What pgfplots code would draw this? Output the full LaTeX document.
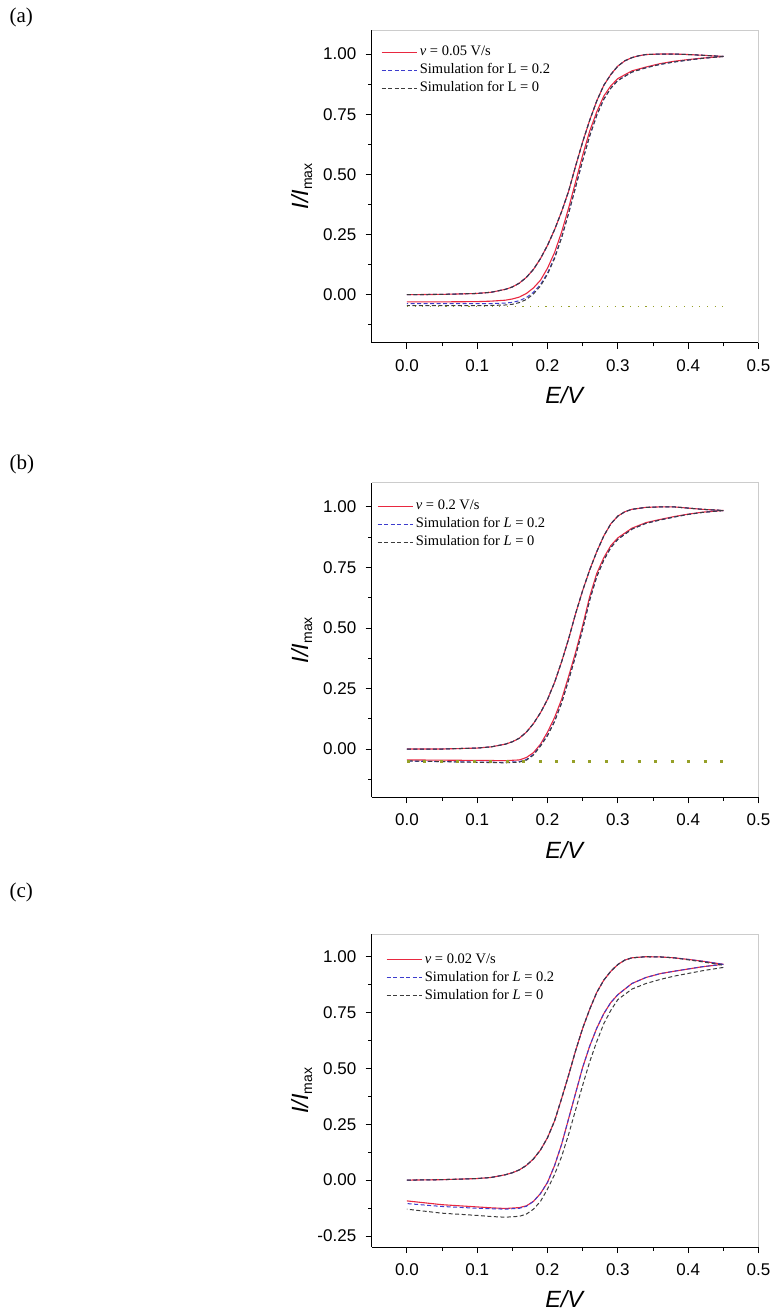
\documentclass[border=0pt]{standalone}
\usepackage{fontspec}
\setmainfont{Liberation Sans}
\newfontfamily\tnr{Liberation Serif}
\usepackage{pgfplots}
\usepackage{pgfplotstable}
\pgfplotsset{compat=1.18}

\definecolor{expred}{RGB}{232,40,64}
\definecolor{simblue}{RGB}{60,60,205}
\definecolor{simgray}{RGB}{60,60,60}
\definecolor{baseolive}{RGB}{150,160,40}

% ---- panel (a): v = 0.05 V/s ----
\pgfplotstableread{
E red blue gray
0.00 0.000 0.000 0.000
0.05 0.001 0.001 0.001
0.10 0.005 0.005 0.005
0.12 0.010 0.010 0.010
0.14 0.022 0.022 0.022
0.15 0.032 0.032 0.032
0.16 0.048 0.048 0.048
0.17 0.072 0.072 0.072
0.18 0.105 0.105 0.105
0.19 0.150 0.150 0.150
0.20 0.205 0.205 0.205
0.21 0.270 0.270 0.270
0.22 0.345 0.345 0.345
0.23 0.430 0.430 0.430
0.24 0.535 0.535 0.535
0.25 0.635 0.635 0.635
0.26 0.725 0.725 0.725
0.27 0.805 0.805 0.805
0.28 0.870 0.870 0.870
0.29 0.915 0.915 0.915
0.30 0.950 0.950 0.950
0.31 0.972 0.972 0.972
0.32 0.985 0.985 0.985
0.33 0.993 0.993 0.993
0.34 0.998 0.998 0.998
0.36 1.000 1.000 1.000
0.38 1.000 1.000 1.000
0.40 0.998 0.998 0.998
0.42 0.995 0.995 0.995
0.45 0.990 0.990 0.990
}\fwdA
\pgfplotstableread{
E red blue gray
0.45 0.990 0.990 0.990
0.42 0.983 0.982 0.982
0.40 0.977 0.975 0.975
0.38 0.970 0.967 0.967
0.36 0.960 0.957 0.957
0.34 0.946 0.943 0.943
0.32 0.930 0.925 0.925
0.30 0.898 0.890 0.890
0.29 0.868 0.858 0.858
0.28 0.825 0.812 0.812
0.27 0.760 0.745 0.745
0.26 0.680 0.660 0.660
0.25 0.580 0.558 0.558
0.24 0.470 0.448 0.448
0.23 0.360 0.338 0.338
0.22 0.260 0.238 0.236
0.21 0.175 0.155 0.150
0.20 0.110 0.090 0.085
0.19 0.060 0.042 0.036
0.18 0.028 0.010 0.003
0.17 0.005 -0.012 -0.020
0.16 -0.010 -0.025 -0.033
0.15 -0.018 -0.032 -0.040
0.14 -0.023 -0.035 -0.043
0.12 -0.027 -0.037 -0.045
0.10 -0.029 -0.037 -0.046
0.05 -0.030 -0.037 -0.046
0.00 -0.030 -0.037 -0.046
}\revA

% ---- panel (b): v = 0.2 V/s ----
\pgfplotstableread{
E red blue gray
0.00 0.000 0.000 0.000
0.05 0.000 0.000 0.000
0.10 0.004 0.004 0.004
0.12 0.009 0.009 0.009
0.14 0.020 0.020 0.020
0.15 0.030 0.030 0.030
0.16 0.045 0.045 0.045
0.17 0.070 0.070 0.070
0.18 0.105 0.105 0.105
0.19 0.150 0.150 0.150
0.20 0.205 0.205 0.205
0.21 0.275 0.275 0.275
0.22 0.360 0.360 0.360
0.23 0.455 0.455 0.455
0.24 0.560 0.560 0.560
0.25 0.655 0.655 0.655
0.26 0.740 0.740 0.740
0.27 0.815 0.815 0.815
0.28 0.880 0.880 0.880
0.29 0.930 0.930 0.930
0.30 0.962 0.962 0.962
0.31 0.980 0.980 0.980
0.32 0.990 0.990 0.990
0.34 0.998 0.998 0.998
0.36 1.000 1.000 1.000
0.38 1.000 1.000 1.000
0.40 0.995 0.995 0.995
0.42 0.990 0.990 0.990
0.45 0.985 0.985 0.985
}\fwdB
\pgfplotstableread{
E red blue gray
0.45 0.985 0.985 0.985
0.42 0.978 0.977 0.977
0.40 0.970 0.969 0.969
0.38 0.960 0.958 0.958
0.36 0.948 0.946 0.946
0.34 0.935 0.932 0.932
0.32 0.912 0.908 0.908
0.30 0.872 0.866 0.866
0.29 0.840 0.832 0.832
0.28 0.790 0.780 0.780
0.27 0.725 0.712 0.712
0.26 0.630 0.615 0.615
0.25 0.510 0.495 0.495
0.24 0.400 0.385 0.385
0.23 0.300 0.285 0.285
0.22 0.205 0.190 0.190
0.21 0.130 0.115 0.113
0.20 0.070 0.058 0.055
0.19 0.020 0.015 0.012
0.18 -0.015 -0.022 -0.025
0.17 -0.035 -0.043 -0.046
0.16 -0.045 -0.052 -0.054
0.14 -0.048 -0.055 -0.057
0.10 -0.047 -0.054 -0.055
0.05 -0.046 -0.052 -0.052
0.00 -0.045 -0.050 -0.049
}\revB

% ---- panel (c): v = 0.02 V/s ----
\pgfplotstableread{
E red blue gray
0.00 0.000 0.000 0.000
0.05 0.002 0.002 0.002
0.10 0.007 0.007 0.007
0.12 0.012 0.012 0.012
0.14 0.024 0.024 0.024
0.15 0.033 0.033 0.033
0.16 0.046 0.046 0.046
0.17 0.066 0.066 0.066
0.18 0.095 0.095 0.095
0.19 0.135 0.135 0.135
0.20 0.190 0.190 0.190
0.21 0.265 0.265 0.265
0.22 0.365 0.365 0.365
0.23 0.470 0.470 0.470
0.24 0.580 0.580 0.580
0.25 0.680 0.680 0.680
0.26 0.765 0.765 0.765
0.27 0.840 0.840 0.840
0.28 0.895 0.895 0.895
0.29 0.935 0.935 0.935
0.30 0.965 0.965 0.965
0.31 0.985 0.985 0.985
0.32 0.995 0.995 0.995
0.34 1.000 1.000 1.000
0.36 0.999 0.999 0.999
0.38 0.995 0.995 0.995
0.40 0.988 0.988 0.986
0.42 0.980 0.980 0.977
0.45 0.966 0.966 0.962
}\fwdC
\pgfplotstableread{
E red blue gray
0.45 0.966 0.966 0.952
0.42 0.955 0.955 0.937
0.40 0.945 0.945 0.925
0.38 0.935 0.935 0.913
0.36 0.924 0.924 0.898
0.34 0.907 0.907 0.880
0.32 0.880 0.880 0.855
0.30 0.830 0.830 0.808
0.29 0.795 0.795 0.760
0.28 0.745 0.745 0.700
0.27 0.680 0.680 0.620
0.26 0.600 0.600 0.530
0.25 0.505 0.505 0.425
0.24 0.390 0.390 0.315
0.23 0.275 0.275 0.205
0.22 0.160 0.160 0.105
0.21 0.065 0.065 0.025
0.20 -0.010 -0.010 -0.040
0.19 -0.060 -0.060 -0.095
0.18 -0.095 -0.095 -0.130
0.17 -0.115 -0.117 -0.152
0.16 -0.123 -0.126 -0.162
0.14 -0.127 -0.130 -0.166
0.12 -0.124 -0.128 -0.163
0.10 -0.120 -0.126 -0.158
0.05 -0.110 -0.118 -0.148
0.00 -0.093 -0.105 -0.130
}\revC

\tikzset{
  expline/.style={color=expred, line width=1.1pt},
  blueline/.style={color=simblue, line width=1pt, dash pattern=on 4pt off 2.5pt},
  grayline/.style={color=simgray, line width=1pt, dash pattern=on 4pt off 2.5pt},
  legtext/.style={anchor=west, inner sep=0pt, text height=10pt, text depth=3pt,
    font=\tnr\fontsize{14.5}{16}\selectfont},
}

% legend: three texts first, then the three sample lines (x of line start, y of first row)
\newcommand{\legend}[5]{%
  \node[legtext] at (#1pt+38pt,#2pt+0.3pt) {#3};
  \node[legtext] at (#1pt+38pt,#2pt-17.7pt) {#4};
  \node[legtext] at (#1pt+38pt,#2pt-35.7pt) {#5};
  \draw[expline] (#1pt,#2pt) -- ++(35pt,0pt);
  \draw[blueline] (#1pt,#2pt-18pt) -- ++(35pt,0pt);
  \draw[grayline] (#1pt,#2pt-36pt) -- ++(35pt,0pt);}

\pgfplotsset{
  cvpanel/.style={
    scale only axis, width=387pt, no markers, clip=false,
    xmin=-0.05, xmax=0.5,
    axis x line*=bottom, axis y line*=left,
    axis line style={-, black, line width=0.8pt},
    tick align=outside, major tick length=6pt, minor tick length=3.5pt,
    tick style={black, line width=0.8pt},
    xtick={0,0.1,0.2,0.3,0.4,0.5},
    minor xtick={0.05,0.15,0.25,0.35,0.45},
    tick label style={font=\fontsize{17}{20}\selectfont},
    x tick label style={yshift=-7pt,/pgf/number format/.cd,fixed,fixed zerofill,precision=1,assume math mode=true},
    y tick label style={xshift=-6pt,/pgf/number format/.cd,fixed,fixed zerofill,precision=2,assume math mode=true},
    xlabel={\textit{E/V}},
    ylabel={\textit{I/I}\raisebox{-4pt}{\fontsize{14}{14}\selectfont max}},
    xlabel style={at={(axis description cs:0.5,-0.166)}, anchor=center, font=\fontsize{23.5}{26}\selectfont},
    ylabel style={at={(axis description cs:-0.181,0.5)}, anchor=center, font=\fontsize{23.5}{26}\selectfont},
  },
}

\begin{document}
\begin{tikzpicture}
\path (0,0) rectangle (775pt,-1311pt);

\node[anchor=west, font=\tnr\fontsize{21}{24}\selectfont] at (6pt,-17pt) {(a)};
\node[anchor=west, font=\tnr\fontsize{21}{24}\selectfont] at (6pt,-465pt) {(b)};
\node[anchor=west, font=\tnr\fontsize{21}{24}\selectfont] at (6pt,-893pt) {(c)};

% (a)
\begin{axis}[cvpanel, at={(372pt,-343pt)}, anchor=south west, height=313pt,
  ymin=-0.2, ymax=1.1, ytick={0,0.25,0.5,0.75,1},
  minor ytick={-0.125,0.125,0.375,0.625,0.875}]
\draw[gray!40, line width=0.8pt] (rel axis cs:0,1) -- (rel axis cs:1,1) -- (rel axis cs:1,0);
\addplot[baseolive, line width=1pt, dash pattern=on 1.2pt off 6.5pt] coordinates {(0,-0.05) (0.45,-0.05)};
\addplot[expline] table[x=E,y=red] {\fwdA};
\addplot[expline] table[x=E,y=red] {\revA};
\addplot[blueline] table[x=E,y=blue] {\fwdA};
\addplot[blueline] table[x=E,y=blue] {\revA};
\addplot[grayline] table[x=E,y=gray] {\fwdA};
\addplot[grayline] table[x=E,y=gray] {\revA};
\end{axis}
\legend{382}{-52.7}{{\itshape v} = 0.05 V/s}{Simulation for L = 0.2}{Simulation for L = 0}

% (b)
\begin{axis}[cvpanel, at={(372pt,-798pt)}, anchor=south west, height=315pt,
  ymin=-0.2, ymax=1.1, ytick={0,0.25,0.5,0.75,1},
  minor ytick={-0.125,0.125,0.375,0.625,0.875}]
\draw[gray!40, line width=0.8pt] (rel axis cs:0,1) -- (rel axis cs:1,1) -- (rel axis cs:1,0);
\addplot[expline] table[x=E,y=red] {\fwdB};
\addplot[expline] table[x=E,y=red] {\revB};
\addplot[blueline] table[x=E,y=blue] {\fwdB};
\addplot[blueline] table[x=E,y=blue] {\revB};
\addplot[grayline] table[x=E,y=gray] {\fwdB};
\addplot[grayline] table[x=E,y=gray] {\revB};
\addplot[baseolive, line width=3pt, dash pattern=on 3pt off 13.5pt] coordinates {(0,-0.052) (0.45,-0.052)};
\end{axis}
\legend{378}{-507}{{\itshape v} = 0.2 V/s}{Simulation for {\itshape L} = 0.2}{Simulation for {\itshape L} = 0}

% (c)
\begin{axis}[cvpanel, at={(372pt,-1248pt)}, anchor=south west, height=313pt,
  ymin=-0.3, ymax=1.1, ytick={-0.25,0,0.25,0.5,0.75,1},
  minor ytick={-0.125,0.125,0.375,0.625,0.875}]
\draw[gray!40, line width=0.8pt] (rel axis cs:0,1) -- (rel axis cs:1,1) -- (rel axis cs:1,0);
\addplot[expline] table[x=E,y=red] {\fwdC};
\addplot[expline] table[x=E,y=red] {\revC};
\addplot[blueline] table[x=E,y=blue] {\fwdC};
\addplot[blueline] table[x=E,y=blue] {\revC};
\addplot[grayline] table[x=E,y=gray] {\fwdC};
\addplot[grayline] table[x=E,y=gray] {\revC};
\end{axis}
\legend{387}{-960.6}{{\itshape v} = 0.02 V/s}{Simulation for {\itshape L} = 0.2}{Simulation for {\itshape L} = 0}
\end{tikzpicture}
\end{document}
